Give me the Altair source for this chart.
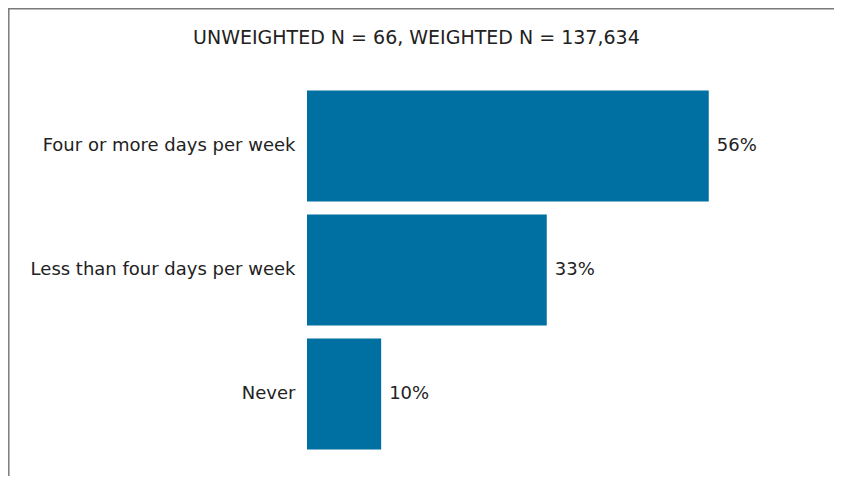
import altair as alt
import pandas as pd

categories = ["Four or more days per week", "Less than four days per week", "Never"]
values = [55.8, 33.3, 10.3]
title_text = "UNWEIGHTED N = 66, WEIGHTED N = 137,634"

df = pd.DataFrame({"category": categories, "value": values})
df["label"] = [f"{round(v):d}%" for v in values]

FONT = "DejaVu Sans"
BAR = "#006fa1"
TXT = "#222222"

y_enc = alt.Y("category:N", sort=categories, title=None,
              scale=alt.Scale(paddingInner=0.105, paddingOuter=0.0524),
              axis=alt.Axis(domain=False, ticks=False, labelPadding=12,
                            labelFont=FONT, labelFontSize=18, labelColor=TXT,
                            labelLimit=400))
x_enc = alt.X("value:Q", title=None, scale=alt.Scale(domain=[0, 70]), axis=None)

base = alt.Chart(df)
bars = base.mark_bar(color=BAR).encode(x=x_enc, y=y_enc)
labels = base.mark_text(align="left", baseline="middle", dx=8, font=FONT,
                        fontSize=18, color=TXT).encode(x=x_enc, y=y_enc, text="label:N")

frame_df = pd.DataFrame({"t": [title_text]})
top_line = alt.Chart(frame_df).mark_rule(color="#7a7a7a", strokeWidth=1.5).encode(
    x=alt.value(-299), x2=alt.value(527), y=alt.value(-75.2))
left_line = alt.Chart(frame_df).mark_rule(color="#7a7a7a", strokeWidth=1.5).encode(
    x=alt.value(-298.2), y=alt.value(-76), y2=alt.value(392))
title = alt.Chart(frame_df).mark_text(font=FONT, fontSize=19, color=TXT,
                                      align="center", baseline="alphabetic").encode(
    x=alt.value(109.4), y=alt.value(-39.7), text="t:N")

chart = alt.layer(bars, labels, top_line, left_line, title).properties(
    width=504, height=372,
    autosize=alt.AutoSizeParams(type="none"),
    padding={"left": 299, "top": 76, "right": 23, "bottom": 20},
).configure(background="white").configure_view(strokeWidth=0, stroke="transparent")

chart.save("out.html", embed_options={"renderer": "svg", "actions": False})
